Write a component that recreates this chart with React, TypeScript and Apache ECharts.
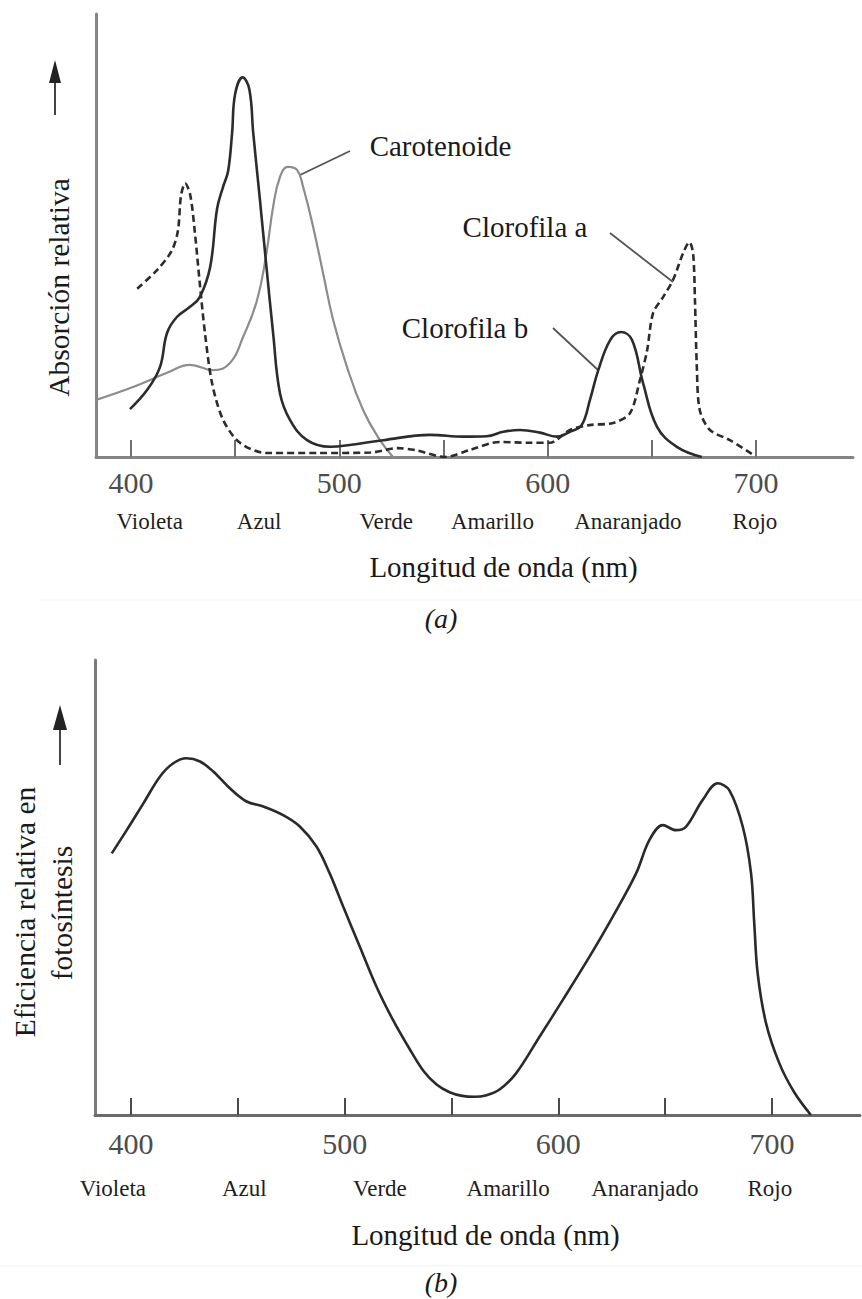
import { useEffect, useRef } from "react";
import * as echarts from "echarts";

const SERIF = '"Liberation Serif", "Times New Roman", Times, serif';

// Axis ticks and numbered labels (nm)
const tickValues = [400, 450, 500, 550, 600, 650, 700];
const tickLabelValues = [400, 500, 600, 700];

// Colour names written under the wavelength axis, and the wavelength each one sits under
const colorNames = ["Violeta", "Azul", "Verde", "Amarillo", "Anaranjado", "Rojo"];
const colorNameWavelengthsA = [409, 461.5, 522.5, 573.5, 638.5, 699.5];
const colorNameWavelengthsB = [391.5, 453, 516.5, 576.5, 640.5, 699];

// (a) Relative absorption spectra: [wavelength nm, relative absorption]
const clorofilaA: [number, number][] = [
  [403, 38], [412.5, 42.2], [419.5, 46.5], [422.5, 51], [424, 59], [426, 61.8],
  [428.5, 59], [430.7, 50.5], [433, 39.3], [435.5, 28], [438.9, 16.7], [444.2, 8.4],
  [452.3, 3.2], [465, 0.9], [490, 0.9], [515, 1], [528, 2], [537, 1.5], [550.7, 0],
  [562.7, 1.6], [577, 3.4], [591.5, 3.2], [601, 3.2], [610.7, 6.1], [620, 7.2],
  [631.4, 7.7], [639.5, 9.9], [644.3, 17.4], [647.7, 24], [650.6, 32.5], [655.4, 36.1],
  [660.2, 40], [665, 46], [668, 48.5], [669.8, 46], [670.7, 35.4], [671.6, 20.3],
  [673, 10.6], [677.9, 6.1], [687.5, 3.8], [698.6, 0.5],
];

const clorofilaB: [number, number][] = [
  [399.5, 10.8], [407.7, 15.1], [413.9, 20.3], [417.3, 28], [422, 31.6], [428.3, 33.9],
  [433, 36.1], [438, 42.9], [441.3, 56], [444.2, 61], [446.6, 64.5], [448.5, 73],
  [450, 82], [453.6, 85.7], [456.8, 83], [458.7, 73], [461.9, 58], [465, 43],
  [468.2, 28], [471.5, 14.4], [476.3, 8.4], [484.5, 3.8], [495.5, 2.3], [505, 2.7],
  [521, 3.8], [543.5, 5], [559.5, 4.6], [570.7, 4.7], [578.7, 5.7], [586.7, 6.1],
  [596.3, 5.5], [604.3, 4.6], [610.7, 5.7], [616.3, 7.2], [620.3, 12.9], [624.3, 19.6],
  [630, 26.4], [635.2, 28.2], [640.5, 26.4], [645.8, 16.7], [652.5, 6.8], [662, 2.3],
  [674, 0],
];

const carotenoide: [number, number][] = [
  [383.2, 12.9], [401, 15.8], [417.3, 19], [428.3, 20.8], [439.4, 19.6], [447.5, 21.2],
  [453.8, 27.1], [460.5, 35.4], [465, 46], [468.2, 56.4], [471.5, 63.2], [475.4, 65.5],
  [479.7, 64.8], [482.6, 61], [487.4, 52], [492.2, 41.5], [497, 31], [503.7, 20.3],
  [511.4, 10.6], [519.5, 3.8], [525.8, 0],
];

// (b) Relative photosynthetic efficiency: [wavelength nm, relative efficiency]
const eficiencia: [number, number][] = [
  [391, 57.5], [398, 62.6], [405.8, 68.5], [413.6, 74.4], [419.8, 77.3], [426, 78.4],
  [432.3, 77.7], [438.5, 75.5], [446.3, 71.8], [454.1, 68.9], [461.9, 67.8], [471.2, 65.9],
  [479, 63.4], [486.8, 59], [493, 53.1], [499.3, 45.8], [507.1, 37], [514.9, 28.2],
  [522.6, 20.9], [530.4, 14.5], [537, 9.6], [543, 6.7], [549.1, 5], [555, 4.2],
  [560.8, 4], [566, 4.3], [572.5, 5.6], [580.3, 9.2], [591.2, 17.2], [602.1, 25.3],
  [614.6, 34.8], [625.5, 43.6], [636.4, 53.1], [642.6, 60.4], [648.9, 63.7], [655.1, 62.6],
  [659.8, 63.4], [667.5, 69.2], [674.6, 72.9], [680, 71.4], [686.3, 63.4], [690.2, 53.1],
  [691.7, 42.1], [693.3, 31.1], [697.2, 20.2], [703.4, 11.4], [710.4, 5], [718.2, 0],
];

function nameFor(positions: number[]) {
  return (value: number) => {
    let best = 0;
    for (let i = 1; i < positions.length; i++) {
      if (Math.abs(positions[i] - value) < Math.abs(positions[best] - value)) best = i;
    }
    return colorNames[best];
  };
}

function wavelengthAxis(
  gridIndex: number,
  min: number,
  max: number,
  axisColor: string,
  tickColor: string,
  labelMargin: number
) {
  return {
    type: "value",
    gridIndex,
    min,
    max,
    position: "bottom",
    axisLine: { show: true, onZero: false, lineStyle: { color: axisColor, width: 3 } },
    axisTick: {
      show: true,
      inside: true,
      length: 17,
      customValues: tickValues,
      lineStyle: { color: tickColor, width: 2 },
    },
    axisLabel: {
      customValues: tickLabelValues,
      margin: labelMargin,
      fontSize: 30,
      color: "#4d4d4d",
      fontFamily: SERIF,
    },
    splitLine: { show: false },
  };
}

function colorNameAxis(gridIndex: number, min: number, max: number, positions: number[], margin: number) {
  return {
    type: "value",
    gridIndex,
    min,
    max,
    position: "bottom",
    axisLine: { show: false },
    axisTick: { show: false },
    axisLabel: {
      customValues: positions,
      formatter: nameFor(positions),
      margin,
      fontSize: 23,
      color: "#1e1e1e",
      fontFamily: SERIF,
    },
    splitLine: { show: false },
  };
}

function relativeAxis(gridIndex: number, color: string) {
  return {
    type: "value",
    gridIndex,
    min: 0,
    max: 100,
    axisLine: { show: true, lineStyle: { color, width: 3 } },
    axisTick: { show: false },
    axisLabel: { show: false },
    splitLine: { show: false },
  };
}

function text(x: number, y: number, str: string, size: number, opts: any = {}) {
  return {
    type: "text",
    x,
    y,
    rotation: opts.rotation || 0,
    silent: true,
    style: {
      text: str,
      font: `${opts.italic ? "italic " : ""}${size}px ${SERIF}`,
      fill: opts.color || "#1a1a1a",
      textAlign: "center",
      textVerticalAlign: "middle",
    },
  };
}

function line(x1: number, y1: number, x2: number, y2: number, color: string, width: number) {
  return {
    type: "line",
    silent: true,
    shape: { x1, y1, x2, y2 },
    style: { stroke: color, lineWidth: width },
  };
}

function arrow(x: number, tipY: number, headY: number, tailY: number, half: number) {
  return [
    line(x, headY, x, tailY, "#444", 2),
    {
      type: "polygon",
      silent: true,
      shape: { points: [[x - half, headY], [x + half, headY], [x, tipY]] },
      style: { fill: "#222" },
    },
  ];
}

export default function App() {
  const ref = useRef<HTMLDivElement>(null);

  useEffect(() => {
    if (!ref.current) return;
    const chart = echarts.init(ref.current, undefined, { renderer: "svg" });

    const option: any = {
      animation: false,
      backgroundColor: "#ffffff",
      grid: [
        { left: 96, top: 14, width: 757, height: 443 },
        { left: 95, top: 660, width: 765, height: 455 },
      ],
      xAxis: [
        wavelengthAxis(0, 383.2, 746.56, "#858585", "#707070", 10),
        colorNameAxis(0, 383.2, 746.56, colorNameWavelengthsA, 53),
        wavelengthAxis(1, 383.15, 741.19, "#6a6a6a", "#4a4a4a", 13),
        colorNameAxis(1, 383.15, 741.19, colorNameWavelengthsB, 62),
      ],
      yAxis: [relativeAxis(0, "#858585"), relativeAxis(1, "#7a7a7a")],
      series: [
        {
          name: "Carotenoide",
          type: "line",
          xAxisIndex: 0,
          yAxisIndex: 0,
          data: carotenoide,
          showSymbol: false,
          smooth: 0.45,
          silent: true,
          lineStyle: { color: "#8c8c8c", width: 2.2 },
        },
        {
          name: "Clorofila b",
          type: "line",
          xAxisIndex: 0,
          yAxisIndex: 0,
          data: clorofilaB,
          showSymbol: false,
          smooth: 0.4,
          silent: true,
          lineStyle: { color: "#2c2c2c", width: 2.6 },
        },
        {
          name: "Clorofila a",
          type: "line",
          xAxisIndex: 0,
          yAxisIndex: 0,
          data: clorofilaA,
          showSymbol: false,
          smooth: 0.3,
          silent: true,
          lineStyle: { color: "#2c2c2c", width: 2.6, type: [7, 4] },
        },
        {
          name: "Eficiencia",
          type: "line",
          xAxisIndex: 2,
          yAxisIndex: 1,
          data: eficiencia,
          showSymbol: false,
          smooth: 0.35,
          silent: true,
          lineStyle: { color: "#2a2a2a", width: 2.6 },
        },
      ],
      graphic: [
        // panel (a)
        text(59, 287.5, "Absorción relativa", 29.5, { rotation: Math.PI / 2 }),
        ...arrow(55, 60, 83, 115, 6),
        text(440.5, 145.5, "Carotenoide", 29),
        line(300, 175, 350, 151, "#555", 1.8),
        text(525, 227, "Clorofila a", 29),
        line(610, 233, 673, 282, "#555", 1.8),
        text(465, 328, "Clorofila b", 29),
        line(553, 328, 598, 370, "#555", 1.8),
        text(503.5, 567, "Longitud de onda (nm)", 29),
        line(40, 600, 862, 600, "#f3f3f3", 1),
        text(441, 618, "(a)", 28, { italic: true }),
        // panel (b)
        text(25, 912, "Eficiencia relativa en", 29.5, { rotation: Math.PI / 2 }),
        text(62, 913, "fotosíntesis", 29.5, { rotation: Math.PI / 2 }),
        ...arrow(60, 705, 730, 765, 7),
        text(485.5, 1235, "Longitud de onda (nm)", 29),
        line(0, 1266, 862, 1266, "#f3f3f3", 1),
        text(441, 1282.5, "(b)", 28, { italic: true }),
      ],
    };

    chart.setOption(option);
    return () => chart.dispose();
  }, []);

  return (
    <div
      ref={ref}
      style={{ position: "absolute", left: 0, top: 0, width: 862, height: 1299, background: "#fff" }}
    />
  );
}
